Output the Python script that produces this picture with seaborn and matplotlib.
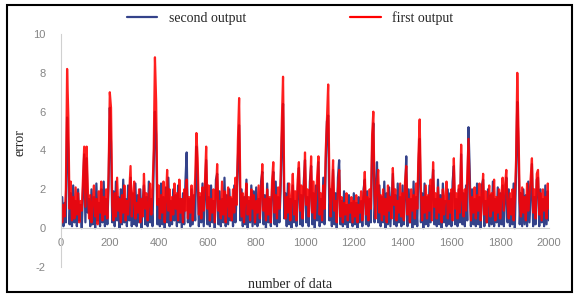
import numpy as np
import pandas as pd
import matplotlib.pyplot as plt
import seaborn as sns
from matplotlib.patches import Rectangle

# データ (5件ごとに読み取った値)
data_index = list(range(0, 2001, 5))

first_output = [
    1.5, 0.3, 1.2, 0.6, 2.0, 8.2, 5.8, 1.0, 2.4, 0.4, 1.6, 0.5, 2.1, 0.7, 1.8, 0.3, 1.4, 0.9, 2.6, 4.2,
    1.1, 4.2, 2.0, 0.5, 1.7, 0.3, 1.3, 2.2, 0.6, 1.5, 0.2, 1.9, 0.8, 2.4, 0.4, 1.6, 0.7, 2.0, 0.5, 2.8,
    7.0, 6.2, 1.2, 0.4, 1.8, 0.6, 2.6, 0.9, 1.5, 0.3, 1.7, 0.8, 2.2, 0.4, 1.4, 0.7, 2.0, 3.2, 0.6, 1.6,
    2.4, 0.5, 1.3, 0.8, 2.0, 0.3, 1.5, 0.6, 2.8, 1.0, 1.8, 0.4, 1.2, 2.3, 0.7, 1.9, 4.0, 8.8, 6.5, 1.2,
    2.2, 0.5, 1.7, 0.8, 2.4, 0.3, 1.4, 3.0, 0.9, 2.0, 0.4, 1.6, 0.7, 2.3, 1.0, 1.8, 0.4, 2.5, 0.8, 1.5,
    0.3, 2.0, 0.9, 2.5, 0.5, 1.6, 0.8, 2.2, 0.4, 1.4, 2.6, 4.9, 3.6, 0.7, 1.8, 0.5, 2.1, 0.9, 2.4, 4.2,
    1.0, 2.2, 0.4, 1.5, 0.8, 2.0, 0.3, 1.7, 3.3, 0.9, 1.4, 0.5, 2.4, 0.7, 1.9, 0.3, 1.3, 2.1, 0.6, 1.6,
    0.4, 2.0, 0.8, 2.6, 1.2, 4.5, 6.7, 2.0, 0.6, 1.8, 0.3, 1.5, 2.3, 0.7, 1.6, 0.4, 2.0, 1.0, 1.7, 0.3,
    1.4, 0.8, 2.2, 0.5, 1.8, 3.3, 0.9, 1.5, 0.4, 2.0, 0.7, 1.6, 0.3, 2.4, 3.4, 0.8, 1.7, 0.5, 2.1, 1.0,
    2.6, 5.5, 7.8, 2.0, 0.5, 1.6, 0.8, 2.3, 0.4, 1.5, 2.8, 0.7, 1.9, 0.4, 2.5, 3.4, 0.9, 2.2, 0.5, 1.8,
    3.9, 1.2, 2.0, 0.6, 1.7, 3.7, 0.8, 2.4, 0.5, 1.5, 2.7, 3.7, 0.7, 1.8, 0.4, 2.2, 1.0, 4.0, 5.6, 7.4,
    2.4, 0.6, 1.8, 3.5, 0.9, 1.4, 0.3, 2.0, 3.0, 0.6, 1.6, 0.3, 1.3, 0.7, 1.8, 0.4, 1.2, 0.8, 1.6, 0.3,
    1.4, 0.6, 1.7, 0.3, 1.2, 0.8, 1.9, 0.4, 1.5, 2.9, 0.7, 1.6, 0.4, 2.0, 1.0, 4.8, 6.0, 1.8, 0.5, 2.2,
    3.0, 0.8, 1.7, 0.4, 2.0, 0.7, 1.5, 0.3, 2.2, 0.9, 1.6, 0.5, 3.1, 1.2, 2.0, 0.4, 1.4, 0.8, 2.3, 0.6,
    1.8, 0.4, 2.4, 3.2, 0.7, 1.5, 0.3, 2.0, 0.9, 1.7, 0.5, 2.3, 1.0, 3.8, 5.6, 2.0, 0.4, 1.6, 0.8, 2.2,
    0.5, 1.7, 0.9, 2.5, 0.4, 3.4, 1.1, 1.8, 0.5, 2.1, 0.8, 1.5, 0.3, 2.0, 0.7, 1.6, 2.4, 0.5, 1.4, 0.8,
    2.0, 0.4, 3.6, 1.0, 1.8, 0.5, 2.2, 0.8, 4.3, 1.5, 0.6, 2.0, 0.9, 2.8, 4.6, 1.8, 0.4, 1.6, 0.8, 2.1,
    0.5, 1.7, 0.9, 2.3, 0.4, 1.5, 2.8, 0.7, 1.9, 0.3, 1.4, 2.2, 0.6, 1.8, 0.9, 2.5, 0.4, 1.6, 0.8, 2.0,
    0.5, 1.7, 2.6, 0.9, 2.2, 3.0, 1.2, 0.5, 1.8, 0.7, 2.0, 0.4, 1.5, 3.5, 8.0, 5.0, 1.4, 0.6, 2.1, 0.8,
    1.6, 0.4, 2.3, 0.9, 1.7, 2.6, 3.6, 0.8, 2.0, 0.5, 2.8, 3.0, 0.7, 1.8, 0.4, 2.0, 0.9, 1.6, 0.5, 2.3,
    1.0,
]

second_output = [
    0.2, 1.6, 0.1, 1.3, 0.3, 5.7, 4.0, 0.2, 1.8, 0.1, 2.2, 0.3, 1.4, 0.1, 2.0, 0.4, 1.2, 0.0, 1.9, 3.8,
    0.3, 3.6, 0.8, 1.5, 0.1, 2.0, 0.2, 1.6, 0.0, 2.3, 0.4, 1.3, 0.1, 2.0, 0.3, 2.4, 0.1, 1.5, 0.2, 2.2,
    6.2, 4.4, 0.3, 1.9, 0.1, 2.4, 0.4, 1.6, 0.0, 2.0, 0.2, 2.5, 0.3, 1.5, 0.1, 2.2, 0.4, 2.6, 0.1, 1.8,
    0.2, 2.3, 0.1, 1.7, 0.3, 2.0, 0.0, 1.4, 2.2, 0.2, 1.6, 0.1, 2.4, 0.3, 1.5, 0.1, 3.2, 6.0, 4.8, 0.2,
    1.5, 0.1, 2.3, 0.2, 1.6, 0.0, 2.1, 0.3, 2.6, 0.1, 1.4, 0.2, 2.0, 0.4, 1.7, 0.1, 2.2, 0.3, 1.5, 0.0,
    1.8, 0.2, 2.4, 3.9, 0.3, 1.5, 0.1, 2.0, 0.2, 1.7, 0.4, 4.2, 2.5, 0.1, 1.6, 0.3, 2.3, 0.1, 1.8, 3.5,
    0.2, 1.6, 0.1, 2.2, 0.3, 1.4, 0.0, 2.5, 2.8, 0.2, 1.9, 0.1, 1.5, 0.3, 2.6, 0.1, 1.7, 0.2, 2.0, 0.4,
    1.5, 0.1, 2.2, 0.3, 1.8, 3.6, 5.3, 0.4, 2.0, 0.1, 1.6, 0.2, 2.5, 0.0, 1.4, 0.3, 2.2, 0.1, 1.9, 0.2,
    2.1, 0.1, 1.5, 0.3, 2.4, 2.9, 0.2, 1.7, 0.0, 2.3, 0.3, 1.5, 0.1, 2.0, 2.9, 0.2, 2.4, 0.1, 1.6, 0.3,
    1.9, 4.6, 6.4, 0.5, 1.8, 0.1, 2.3, 0.2, 1.5, 0.0, 2.2, 0.3, 1.4, 0.1, 2.0, 3.1, 0.2, 1.7, 0.1, 2.4,
    3.5, 0.3, 1.6, 0.1, 2.4, 3.2, 0.2, 1.8, 0.0, 2.2, 0.4, 3.4, 0.1, 1.5, 0.3, 2.6, 0.2, 3.3, 5.5, 5.8,
    0.4, 2.0, 0.1, 3.0, 0.2, 1.8, 0.0, 2.6, 3.5, 0.2, 1.4, 0.1, 1.9, 0.2, 1.2, 0.0, 1.7, 0.3, 1.3, 0.1,
    1.8, 0.2, 1.3, 0.0, 1.6, 0.3, 1.4, 0.1, 2.0, 2.5, 0.2, 1.9, 0.1, 1.5, 0.3, 4.0, 5.4, 0.3, 2.0, 3.4,
    0.3, 2.2, 0.1, 1.6, 0.3, 2.4, 0.0, 1.8, 0.2, 2.1, 0.1, 1.5, 2.8, 0.2, 1.7, 0.1, 2.3, 0.3, 1.6, 0.1,
    2.2, 0.2, 1.7, 3.7, 0.1, 2.0, 0.3, 1.5, 0.0, 2.4, 0.2, 1.6, 0.1, 3.2, 4.6, 0.3, 1.8, 0.0, 2.3, 0.2,
    1.6, 0.1, 2.2, 0.3, 1.9, 3.0, 0.2, 1.5, 0.1, 2.5, 0.2, 1.7, 0.0, 2.3, 0.3, 1.4, 0.1, 2.0, 0.2, 1.8,
    0.1, 2.4, 3.2, 0.2, 1.5, 0.1, 2.0, 0.3, 3.8, 0.2, 1.8, 0.1, 2.2, 0.4, 5.2, 3.0, 0.1, 2.0, 0.2, 1.5,
    0.1, 2.3, 0.2, 1.6, 0.0, 2.2, 2.5, 0.1, 1.4, 0.3, 2.0, 0.1, 1.7, 0.2, 2.4, 0.1, 1.5, 0.3, 2.1, 0.1,
    1.8, 0.2, 2.2, 0.1, 1.6, 2.6, 0.3, 2.0, 0.1, 1.5, 0.2, 2.3, 0.0, 2.9, 6.5, 4.0, 0.2, 1.8, 0.1, 2.0,
    0.2, 1.7, 0.1, 2.4, 0.3, 1.8, 3.3, 0.1, 1.6, 0.2, 2.5, 2.6, 0.1, 2.0, 0.3, 1.5, 0.1, 2.2, 0.2, 1.9,
    0.4,
]

series_names = ["second output", "first output"]
series_colors = {"second output": "#34428a", "first output": "#ff0000"}

df = pd.concat([
    pd.DataFrame({"number of data": data_index, "error": second_output, "series": "second output"}),
    pd.DataFrame({"number of data": data_index, "error": first_output, "series": "first output"}),
])

sns.set_style("white")
plt.rcParams['font.family'] = ['Liberation Serif', 'DejaVu Serif']
plt.rcParams['axes.unicode_minus'] = False

fig = plt.figure(figsize=(5.74, 2.94), dpi=100)
ax = fig.add_axes([61 / 574, 1 - 267 / 294, 488 / 574, 233 / 294])

sns.lineplot(data=df, x="number of data", y="error", hue="series",
             hue_order=series_names, palette=series_colors,
             linewidth=1.6, estimator=None, sort=False, ax=ax)
ax.lines[1].set_alpha(0.88)

ax.set_xlim(0, 2000)
ax.set_ylim(-2, 10)
ax.set_xticks(range(0, 2001, 200))
ax.set_yticks(range(-2, 11, 2))

for s in ["top", "right"]:
    ax.spines[s].set_visible(False)
ax.spines["left"].set_color("#d0d0d0")
ax.spines["left"].set_linewidth(0.8)
ax.spines["bottom"].set_position(("data", 0))
ax.spines["bottom"].set_color("#d0d0d0")
ax.spines["bottom"].set_linewidth(0.8)

ax.tick_params(axis="x", length=0, pad=7, labelsize=8, labelcolor="#858585")
ax.tick_params(axis="y", length=0, pad=11, labelsize=8, labelcolor="#858585")
for lbl in ax.get_xticklabels() + ax.get_yticklabels():
    lbl.set_family(['Liberation Sans', 'DejaVu Sans'])

ax.set_xlabel("number of data", fontsize=10)
ax.set_ylabel("error", fontsize=10)
ax.xaxis.set_label_coords(0.469, -0.047)
ax.yaxis.set_label_coords(-0.07, 0.532)

sns.move_legend(ax, "center", bbox_to_anchor=(0.469, 1.07), ncol=2,
                frameon=False, title=None, fontsize=10,
                columnspacing=7.5, handlelength=2.2, handletextpad=0.8)
leg = ax.get_legend()
for h in leg.legend_handles:
    h.set_linewidth(1.6)

# 外枠
fig.patches.append(Rectangle((7 / 574, 2 / 294), 565 / 574, 287 / 294,
                             transform=fig.transFigure, fill=False,
                             edgecolor="black", linewidth=1.5))

plt.savefig("out.png", dpi=100)
plt.close()
